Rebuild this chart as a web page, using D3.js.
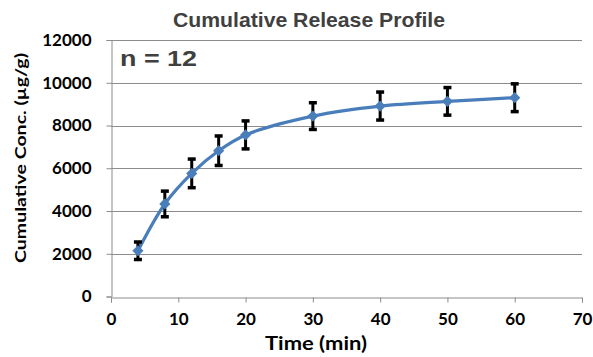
<!DOCTYPE html>
<html><head><meta charset="utf-8">
<script src="https://cdn.jsdelivr.net/npm/d3@7"></script>
<style>body{margin:0;background:#fff}</style>
</head><body>
<svg id="c" width="593" height="357"></svg>
<script>
const times = [4, 8, 12, 16, 20, 30, 40, 50, 60];
const conc = [2140, 4330, 5760, 6820, 7560, 8440, 8910, 9130, 9300];
const errs = [410, 600, 670, 690, 655, 625, 655, 645, 650];
const xTicks = [0, 10, 20, 30, 40, 50, 60, 70];
const yTicks = [0, 2000, 4000, 6000, 8000, 10000, 12000];

const svg = d3.select("#c");
const x = d3.scaleLinear().domain([0, 70]).range([111, 582]);
const y = d3.scaleLinear().domain([0, 12000]).range([296.5, 40]);
const tickFont = "Lato, 'Open Sans', sans-serif";

// gridlines
svg.append("g").selectAll("line").data(yTicks.filter(d => d > 0)).join("line")
  .attr("x1", x(0)).attr("x2", x(70))
  .attr("y1", d => Math.round(y(d)) + 0.5).attr("y2", d => Math.round(y(d)) + 0.5)
  .attr("stroke", "#8c8c8c").attr("stroke-width", 1);

// y axis
const yAxis = svg.append("g").attr("transform", `translate(${x(0) + 0.5},0)`)
  .call(d3.axisLeft(y).tickValues(yTicks).tickSize(5).tickPadding(15).tickFormat(d3.format("d")));
yAxis.select(".domain").attr("stroke", "#8c8c8c");
yAxis.selectAll(".tick line").attr("stroke", "#8c8c8c");
yAxis.selectAll("text").attr("font-family", tickFont).attr("font-weight", "bold")
  .attr("font-size", 17).attr("fill", "#000");

// x axis
const xAxis = svg.append("g").attr("transform", `translate(0,${Math.round(y(0)) + 0.5})`)
  .call(d3.axisBottom(x).tickValues(xTicks).tickSize(5).tickPadding(10).tickFormat(d3.format("d")));
xAxis.select(".domain").attr("stroke", "#8c8c8c");
xAxis.selectAll(".tick line").attr("stroke", "#8c8c8c");
xAxis.selectAll("text").attr("font-family", tickFont).attr("font-weight", "bold")
  .attr("font-size", 17).attr("fill", "#000");

const data = times.map((t, i) => ({t, v: conc[i], e: errs[i]}));

// line
const line = d3.line().x(d => x(d.t)).y(d => y(d.v)).curve(d3.curveCatmullRom.alpha(0.5));
svg.append("path").datum(data).attr("d", line).attr("fill", "none")
  .attr("stroke", "#4a7ebb").attr("stroke-width", 3.2).attr("stroke-linecap", "round");

// error bars
const eb = svg.append("g").attr("stroke", "#000").attr("stroke-width", 3);
eb.selectAll(".v").data(data).join("line")
  .attr("x1", d => x(d.t)).attr("x2", d => x(d.t))
  .attr("y1", d => y(d.v + d.e)).attr("y2", d => y(d.v - d.e));
eb.selectAll(".t").data(data).join("line")
  .attr("x1", d => x(d.t) - 4).attr("x2", d => x(d.t) + 4)
  .attr("y1", d => y(d.v + d.e)).attr("y2", d => y(d.v + d.e)).attr("stroke-width", 3.5);
eb.selectAll(".b").data(data).join("line")
  .attr("x1", d => x(d.t) - 4).attr("x2", d => x(d.t) + 4)
  .attr("y1", d => y(d.v - d.e)).attr("y2", d => y(d.v - d.e)).attr("stroke-width", 3.5);

// markers
svg.append("g").selectAll("path").data(data).join("path")
  .attr("d", d3.symbol(d3.symbolDiamond2, 80))
  .attr("transform", d => `translate(${x(d.t)},${y(d.v)})`)
  .attr("fill", "#4a7ebb");

function fit(t, w) { t.attr("textLength", w).attr("lengthAdjust", "spacingAndGlyphs"); }

// title
const tt = svg.append("text").attr("x", 309).attr("y", 27).attr("text-anchor", "middle")
  .attr("font-family", "'Liberation Sans', Arial, sans-serif").attr("font-weight", "bold")
  .attr("font-size", 21).attr("fill", "#404040").text("Cumulative Release Profile");
fit(tt, 272);

// n = 12
const nt = svg.append("text").attr("x", 120).attr("y", 66)
  .attr("font-family", "'Liberation Sans', Arial, sans-serif").attr("font-weight", "bold")
  .attr("font-size", 22.5).attr("fill", "#404040").text("n = 12");
fit(nt, 77);

// axis titles
const xt = svg.append("text").attr("x", 316).attr("y", 350).attr("text-anchor", "middle")
  .attr("font-family", tickFont).attr("font-weight", "bold").attr("font-size", 19)
  .attr("fill", "#000").text("Time (min)");
const yt = svg.append("text").attr("transform", "translate(26,158) rotate(-90)").attr("text-anchor", "middle")
  .attr("font-family", tickFont).attr("font-weight", "bold").attr("font-size", 16)
  .attr("fill", "#000").text("Cumulative Conc. (µg/g)");
fit(xt, 102);
fit(yt, 210);
</script>
</body></html>
